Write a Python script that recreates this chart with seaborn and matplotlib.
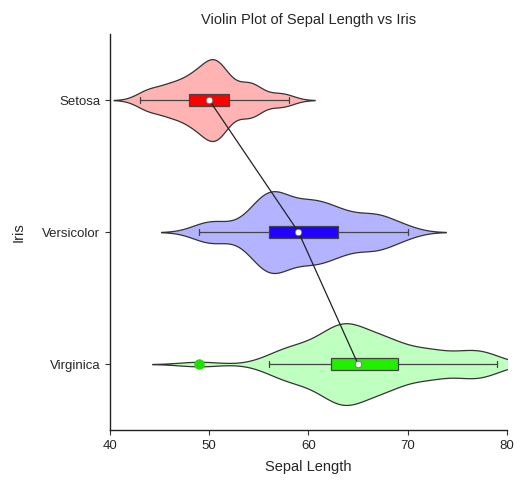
import numpy as np
import pandas as pd
import matplotlib
matplotlib.use("Agg")
import matplotlib.pyplot as plt
import seaborn as sns

# Sepal length (mm) per iris species
species = ["Setosa", "Versicolor", "Virginica"]
setosa = [51, 49, 47, 46, 50, 54, 46, 50, 44, 49, 54, 48, 48, 43, 58, 57, 54, 51, 57, 51,
          54, 51, 46, 51, 48, 50, 50, 52, 52, 47, 48, 54, 52, 55, 49, 50, 55, 49, 44, 51,
          50, 45, 44, 50, 51, 48, 51, 46, 53, 50]
versicolor = [70, 64, 69, 55, 65, 57, 63, 49, 66, 52, 50, 59, 60, 61, 56, 67, 56, 58, 62, 56,
              59, 61, 63, 61, 64, 66, 68, 67, 60, 57, 55, 55, 58, 60, 54, 60, 67, 63, 56, 55,
              55, 61, 58, 50, 56, 57, 57, 62, 51, 57]
virginica = [63, 58, 71, 63, 65, 76, 49, 73, 67, 72, 65, 64, 68, 57, 58, 64, 65, 77, 77, 60,
             69, 56, 77, 63, 67, 72, 62, 61, 64, 72, 74, 79, 64, 63, 61, 77, 63, 64, 60, 69,
             67, 69, 58, 68, 67, 67, 63, 65, 62, 59]
x_ticks = [40, 50, 60, 70, 80]

violin_colors = ["#FFB3B3", "#B3B3FF", "#BFFFBF"]
box_colors = ["#FF0000", "#2200FF", "#22EE00"]

df = pd.DataFrame({
    "Sepal Length": setosa + versicolor + virginica,
    "Iris": ["Setosa"] * len(setosa) + ["Versicolor"] * len(versicolor) + ["Virginica"] * len(virginica),
})

sns.set_style("white")
plt.rcParams["font.family"] = ["Liberation Sans", "DejaVu Sans"]

fig = plt.figure(figsize=(5.14, 4.8), dpi=100)
ax = fig.add_axes([0.214, 0.104, 0.772, 0.825])

sns.violinplot(data=df, x="Sepal Length", y="Iris", hue="Iris", order=species,
               hue_order=species, palette=violin_colors, saturation=1, inner=None,
               cut=2.4, bw_adjust=0.68, density_norm="width", width=0.62,
               linewidth=0.9, linecolor="#333333", legend=False, ax=ax)

sns.boxplot(data=df, x="Sepal Length", y="Iris", hue="Iris", order=species,
            hue_order=species, palette=box_colors, width=0.09, whis=1.5,
            linewidth=0.9, linecolor="#444444", saturation=1, legend=False,
            flierprops=dict(marker="o", markerfacecolor="#22DD00",
                            markeredgecolor="#22DD00", markersize=6.5),
            medianprops=dict(linewidth=0), ax=ax)

# Line joining the medians
sns.pointplot(data=df, x="Sepal Length", y="Iris", order=species,
              estimator=np.median, errorbar=None, color="#222222",
              markers="", linewidth=0.9, ax=ax)

medians = df.groupby("Iris")["Sepal Length"].median().reindex(species)
sns.scatterplot(x=medians.values, y=species, color="white", edgecolor="#666666",
                linewidth=0.5, s=22, zorder=10, ax=ax)

ax.set_xlim(40, 80)
ax.set_ylim(2.5, -0.5)
ax.set_xticks(x_ticks)
ax.tick_params(axis="both", which="both", direction="out", length=3.5, width=0.8,
               color="#333333", labelsize=9.5, bottom=True, left=True)
for s in ["top", "right"]:
    ax.spines[s].set_visible(False)
for s in ["left", "bottom"]:
    ax.spines[s].set_color("#222222")
    ax.spines[s].set_linewidth(1.0)

ax.set_title("Violin Plot of Sepal Length vs Iris", fontsize=10.5, pad=7)
ax.set_xlabel("Sepal Length", fontsize=10.5, labelpad=6)
ax.set_ylabel("Iris", fontsize=10.5, labelpad=12)

fig.savefig("out.png", dpi=100)
